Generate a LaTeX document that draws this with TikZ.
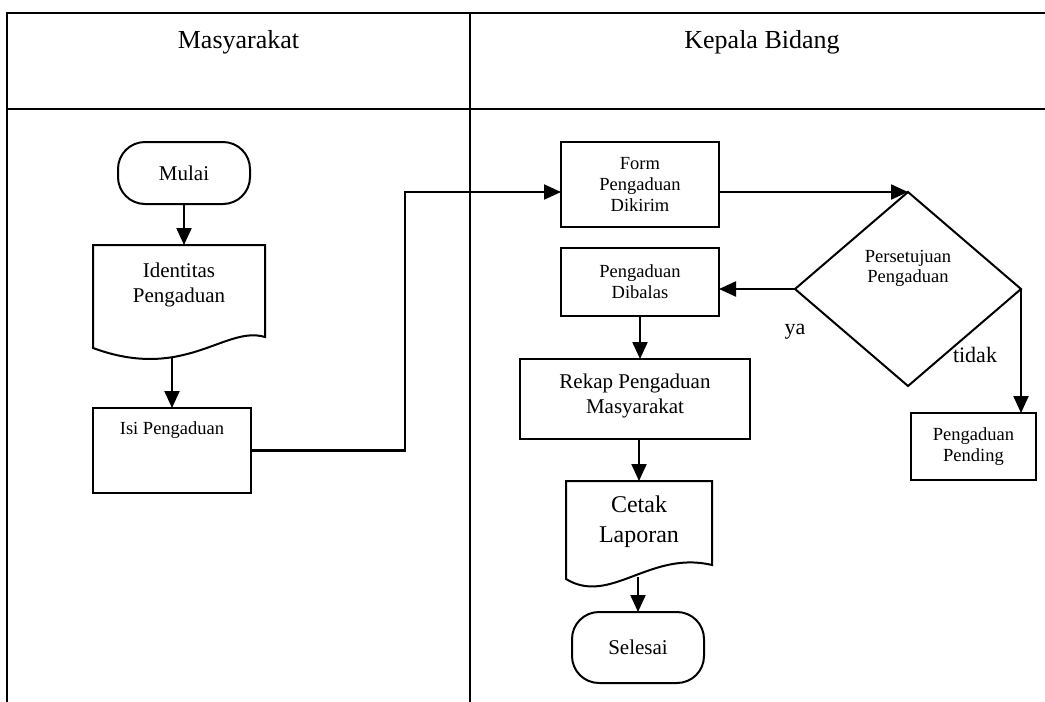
\documentclass[tikz,border=0pt]{standalone}
\usepackage{fontspec}
\setmainfont{Liberation Serif}
\usetikzlibrary{arrows.meta,shapes.geometric}
\tikzset{
  lane/.style={line width=2.8pt},
  box/.style={draw, line width=2pt, inner sep=0pt, outer sep=0pt, rectangle},
  ghost/.style={rectangle, inner sep=0pt, outer sep=0pt},
  term/.style={box, rounded corners=27pt},
  docline/.style={line width=2pt, line join=miter},
  arr/.style={line width=2.2pt, -{Triangle[length=17pt,width=15pt]}},
  small/.style={font=\fontsize{18.5}{21}\selectfont, align=center},
  mid/.style={font=\fontsize{21}{25}\selectfont, align=center},
  big/.style={font=\fontsize{24}{30}\selectfont, align=center},
  head/.style={font=\fontsize{26}{31}\selectfont},
  lbl/.style={font=\fontsize{22}{26}\selectfont}
}
\begin{document}
\begin{tikzpicture}[x=1pt,y=-1pt]
\useasboundingbox (0,0) rectangle (1045,702);

% swimlane table
\draw[lane] (7,702) -- (7,13) -- (1045,13);
\draw[lane] (7,109) -- (1045,109);
\draw[lane] (470,13) -- (470,702);
\node[head] (h1) at (238.5,42) {Masyarakat};
\node[head] (h2) at (762,42) {Kepala Bidang};

% Masyarakat lane
\node[term, minimum width=132pt, minimum height=62pt, mid] (mulai) at (184,173) {Mulai};

\node[ghost, minimum width=172pt, minimum height=103pt] (ident) at (179,296.5) {};
\draw[docline] (ident.south west) -- (ident.north west) -- (ident.north east) -- (265,337)
  .. controls (225,325) and (185,382) .. (ident.south west) -- cycle;
\node[mid] (identt) at (179,284.5) {Identitas\\Pengaduan};
\coordinate (identb) at (172,357);

\node[box, minimum width=158pt, minimum height=85pt] (isi) at (172,450.5) {};
\node[small] (isit) at (172,430) {Isi Pengaduan};

% Kepala Bidang lane
\node[box, minimum width=158pt, minimum height=85pt, small] (form) at (640,184.5) {Form\\Pengaduan\\Dikirim};
\node[box, minimum width=158pt, minimum height=68pt, small] (dib) at (640,282) {Pengaduan\\Dibalas};
\node[diamond, draw, line width=2pt, inner sep=0pt, outer sep=0pt, minimum width=226pt, minimum height=194pt] (dec) at (908,289) {};
\node[small, font=\fontsize{18.5}{20}\selectfont] (dect) at (908,268) {Persetujuan\\Pengaduan};
\node[box, minimum width=125pt, minimum height=67pt, small] (pend) at (973.5,446.5) {Pengaduan\\Pending};
\node[box, minimum width=230pt, minimum height=80pt] (rekap) at (635,399) {};
\node[mid] (rekapt) at (635,395.5) {Rekap Pengaduan\\Masyarakat};

\node[ghost, minimum width=146pt, minimum height=98pt] (cetak) at (639,530) {};
\draw[docline] (cetak.south west) -- (cetak.north west) -- (cetak.north east) -- (712,565)
  .. controls (650,550) and (610,606) .. (cetak.south west) -- cycle;
\node[big] (cetakt) at (639,522) {Cetak\\Laporan};
\coordinate (cetakb) at (638,577);

\node[term, minimum width=132pt, minimum height=71pt, mid] (selesai) at (638,647.5) {Selesai};

\node[lbl] (ya) at (795,332) {ya};
\node[lbl] (tidak) at (975,355) {tidak};

% connectors
\coordinate (bend) at (405,192);
\draw[arr] (mulai.south) -- (mulai.south |- ident.north);
\draw[arr] (identb) -- (isi.north);
\draw[arr] (isi.east) -| (bend) -- ([yshift=-7.5pt]form.west);
\draw[arr] ([yshift=-7.5pt]form.east) -- (dec.north);
\draw[arr] (dec.west) -- (dec.west -| dib.east);
\draw[arr] (dec.east) -- (dec.east |- pend.north);
\draw[arr] (dib.south) -- (dib.south |- rekap.north);
\draw[arr] (cetak.north |- rekap.south) -- (cetak.north);
\draw[arr] (cetakb) -- (selesai.north);
\end{tikzpicture}
\end{document}
